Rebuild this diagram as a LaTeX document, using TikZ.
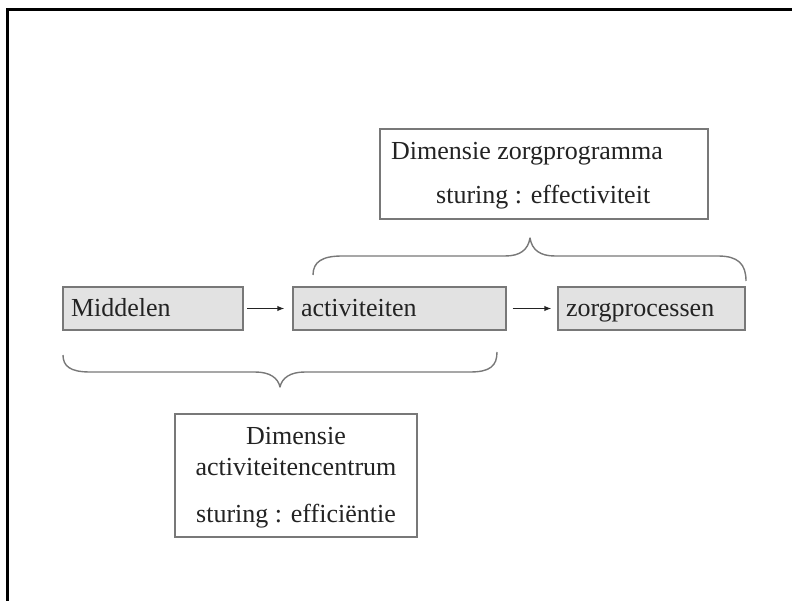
\documentclass[tikz,border=0pt]{standalone}
\usepackage{fontspec}
\setmainfont{Liberation Serif}
\usetikzlibrary{arrows.meta}
\definecolor{boxfill}{RGB}{226,226,226}
\definecolor{edge}{RGB}{120,120,120}
\definecolor{ink}{RGB}{35,35,35}
\begin{document}
\begin{tikzpicture}[x=1pt,y=-1pt,
  stagebox/.style={draw=edge, line width=1.3pt, fill=boxfill, minimum height=43pt,
    inner xsep=8pt, inner ysep=0pt, text width=#1, align=left,
    text height=22pt, text depth=5pt,
    font=\fontsize{26}{30}\selectfont, text=ink},
  textbox/.style={draw=edge, line width=1.3pt, fill=white, inner sep=0pt},
  lbl/.style={inner sep=0pt, font=\fontsize{26}{30}\selectfont, text=ink},
  conn/.style={-{Latex[length=7pt,width=5.5pt]}, line width=1.3pt, draw=ink},
  bracestyle/.style={draw=edge, line width=1.4pt, line join=round}]
\useasboundingbox (0,0) rectangle (792,601);
% frame
\draw[line width=2.7pt] (7.5,601) -- (7.5,9.5) -- (792,9.5);
% stage boxes
\node[stagebox=164pt] (mid) at (153,308.5) {Middelen};
\node[stagebox=197pt] (act) at (399.5,308.5) {activiteiten};
\node[stagebox=171pt] (zorg) at (651.5,308.5) {zorgprocessen};
\draw[conn, shorten <=3.5pt, shorten >=8pt] (mid) -- (act);
\draw[conn, shorten <=6pt, shorten >=6pt] (act) -- (zorg);
% top brace
\draw[bracestyle] (313,275) .. controls (313,262) and (322,256) .. (342,256)
  -- (505,256) .. controls (520,256) and (528,250) .. (530,238)
  .. controls (532,250) and (540,256) .. (555,256)
  -- (718,256) .. controls (738,256) and (746,264) .. (746,281);
% top text box
\node[textbox, minimum width=328pt, minimum height=90pt] (tbox) at (544,174) {};
\node[lbl, anchor=base west] (t1) at (391,160) {Dimensie zorgprogramma};
\node[lbl, anchor=base west] (t2) at (436,204) {sturing : effectiviteit};
% bottom brace
\draw[bracestyle] (63,355) .. controls (63,366) and (70,372) .. (90,372)
  -- (255,372) .. controls (270,372) and (278,378) .. (280,387)
  .. controls (282,378) and (290,372) .. (305,372)
  -- (470,372) .. controls (490,372) and (497,366) .. (497,352);
% bottom text box
\node[textbox, minimum width=242pt, minimum height=123pt] (bbox) at (296,475.5) {};
\node[lbl, anchor=base] (b1) at (296,444) {Dimensie};
\node[lbl, anchor=base] (b2) at (296,475) {activiteitencentrum};
\node[lbl, anchor=base] (b3) at (296,522) {sturing : efficiëntie};
\end{tikzpicture}
\end{document}
